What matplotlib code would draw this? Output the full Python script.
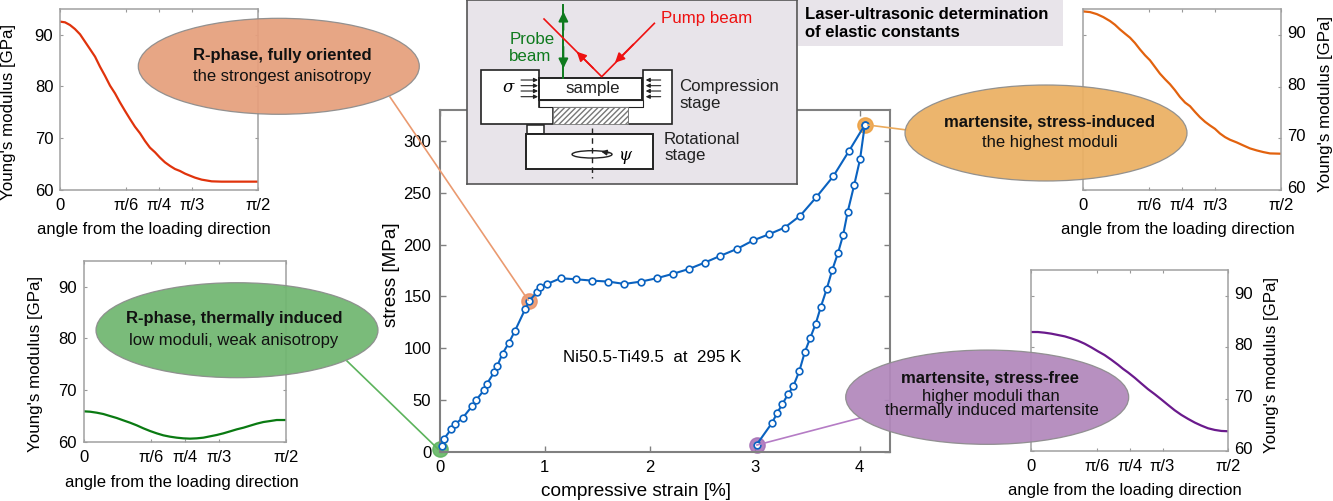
import matplotlib
matplotlib.use('Agg')
import matplotlib.pyplot as plt
import numpy as np
from matplotlib.patches import Ellipse, Polygon, Rectangle
from matplotlib.transforms import ScaledTranslation

plt.rcParams['font.family'] = ['Liberation Sans', 'DejaVu Sans']

W, H = 1333, 501

# Stress-strain loop
loading_strain = [0.02, 0.04, 0.11, 0.15, 0.22, 0.31, 0.35, 0.425, 0.45, 0.52, 0.55, 0.60, 0.66, 0.72,
                  0.815, 0.857, 0.933, 0.96, 1.024, 1.154, 1.303, 1.456, 1.608, 1.76, 1.919, 2.068,
                  2.22, 2.376, 2.525, 2.671, 2.836, 2.986, 3.138, 3.288, 3.436, 3.59, 3.75, 3.897, 4.05]
loading_stress = [5.5, 12, 21.6, 26.7, 32.5, 44, 50, 59.6, 65.4, 76.6, 82.8, 94.7, 105, 117,
                  137.5, 146, 154.6, 159, 162, 167.5, 166.5, 165.2, 164.3, 162, 164.3, 167.5,
                  171.7, 176.5, 182.6, 189, 196, 204, 210, 216.5, 228, 246, 266, 290, 315.6]
unloading_strain = [4.05, 4.005, 3.95, 3.887, 3.843, 3.795, 3.74, 3.687, 3.63, 3.583, 3.529, 3.478,
                    3.427, 3.37, 3.319, 3.265, 3.217, 3.166, 3.02]
unloading_stress = [315.6, 282.5, 258, 231.6, 209, 192, 175.5, 157, 139.5, 123.7, 109.5, 96,
                    78, 63.5, 55.5, 46, 37.7, 27.7, 6.8]
highlight_strain = [0, 0.857, 4.05, 3.02]
highlight_stress = [2.6, 146, 315.6, 6.8]
highlight_colors = ['#5cb35c', '#ea8f63', '#ec9d3c', '#a56db5']

# Young's modulus curves, angle as a fraction of pi/2
angle_red = [0, 0.024, 0.049, 0.074, 0.1, 0.125, 0.15, 0.176, 0.201, 0.226, 0.252, 0.277, 0.302, 0.328, 0.353,
             0.378, 0.404, 0.429, 0.454, 0.48, 0.505, 0.53, 0.556, 0.581, 0.606, 0.632, 0.657, 0.682, 0.716,
             0.767, 0.817, 0.902, 1]
modulus_red = [92.55, 92.42, 91.9, 91.13, 90.1, 88.68, 87.26, 85.77, 83.83, 82.09, 80.15, 78.67, 76.93, 75.25, 73.7,
               72.21, 70.92, 69.44, 68.15, 67.24, 66.21, 65.31, 64.6, 64.01, 63.63, 63.11, 62.72, 62.34, 61.95,
               61.62, 61.56, 61.56, 61.56]
angle_green = [0, 0.03, 0.063, 0.096, 0.129, 0.162, 0.195, 0.228, 0.261, 0.294, 0.327, 0.36, 0.393, 0.426, 0.459,
               0.492, 0.525, 0.558, 0.591, 0.624, 0.657, 0.69, 0.723, 0.756, 0.79, 0.822, 0.855, 0.888, 0.921,
               0.954, 1]
modulus_green = [65.88, 65.81, 65.62, 65.36, 64.97, 64.59, 64.13, 63.68, 63.17, 62.59, 62.07, 61.62, 61.23, 60.97,
                 60.78, 60.65, 60.59, 60.65, 60.78, 61.04, 61.3, 61.62, 62.0, 62.39, 62.72, 63.1, 63.49, 63.81,
                 64.0, 64.2, 64.2]
angle_orange = [0, 0.034, 0.068, 0.101, 0.135, 0.16, 0.185, 0.211, 0.236, 0.261, 0.286, 0.312, 0.337, 0.362, 0.387,
                0.413, 0.438, 0.463, 0.488, 0.514, 0.539, 0.564, 0.589, 0.615, 0.64, 0.665, 0.69, 0.716, 0.741,
                0.775, 0.808, 0.842, 0.876, 0.909, 0.943, 1]
modulus_orange = [94.59, 94.46, 94.07, 93.49, 92.72, 92.0, 91.1, 90.27, 89.49, 88.46, 87.23, 86.07, 85.1, 83.81, 82.52,
                  81.43, 80.46, 79.3, 78.0, 76.91, 76.2, 75.1, 74.07, 73.17, 72.46, 71.81, 70.91, 70.2, 69.69,
                  69.17, 68.59, 68.01, 67.62, 67.3, 67.04, 66.98]
angle_purple = [0, 0.035, 0.069, 0.103, 0.137, 0.171, 0.204, 0.238, 0.272, 0.306, 0.34, 0.373, 0.407, 0.441, 0.466,
                0.492, 0.526, 0.559, 0.593, 0.627, 0.661, 0.694, 0.728, 0.762, 0.796, 0.83, 0.863, 0.897, 0.931,
                0.965, 1]
modulus_purple = [82.97, 82.97, 82.84, 82.65, 82.39, 82.13, 81.75, 81.29, 80.71, 80.0, 79.23, 78.52, 77.62, 76.65,
                  75.87, 75.16, 74.13, 73.04, 71.94, 70.97, 69.94, 68.91, 67.87, 66.97, 66.2, 65.49, 64.91, 64.39,
                  64.07, 63.87, 63.81]

angle_ticks = [0, np.pi/6, np.pi/4, np.pi/3, np.pi/2]
angle_labels = ['0', 'π/6', 'π/4', 'π/3', 'π/2']
modulus_ticks = [60, 70, 80, 90]
strain_ticks = [0, 1, 2, 3, 4]
stress_ticks = [0, 50, 100, 150, 200, 250, 300]


def make_axes(left, top, right, bottom):
    # pixel box to figure fractions
    return fig.add_axes([left/W, 1 - bottom/H, (right - left)/W, (bottom - top)/H])


fig = plt.figure(figsize=(W/100, H/100), dpi=100)

# main plot
ax = make_axes(439.5, 110, 890, 451.7)
ax.plot(loading_strain, loading_stress, color='#0a62c0', lw=1.5, zorder=3)
ax.plot(unloading_strain, unloading_stress, color='#0a62c0', lw=1.5, zorder=3)
for x, y, c in zip(highlight_strain, highlight_stress, highlight_colors):
    ax.plot(x, y, 'o', ms=11, color=c, mec=c, alpha=0.85, zorder=2, clip_on=False)
for xs, ys in [(loading_strain, loading_stress), (unloading_strain, unloading_stress)]:
    ax.plot(xs, ys, 'o', ms=4.8, mfc='white', mec='#0a62c0', mew=1.2, zorder=4, clip_on=False)
ax.set_xlim(0, 4.29)
ax.set_ylim(0, 330)
ax.set_xticks(strain_ticks)
ax.set_yticks(stress_ticks)
ax.tick_params(direction='in', top=True, right=True, length=4, width=1, color='#808080', labelsize=12, pad=6)
for s in ax.spines.values():
    s.set_color('#808080')
    s.set_linewidth(1.5)
ax.set_xlabel('compressive strain [%]', fontsize=13.7)
ax.xaxis.set_label_coords((636 - 439.5)/450.5, -(491 - 451.7)/341.7)
ax.xaxis.label.set_va('center')
ax.set_ylabel('stress [MPa]', fontsize=13.7)
ax.yaxis.set_label_coords((391 - 439.5)/450.5, (451.7 - 275)/341.7)
ax.yaxis.label.set_va('center')
ax.text(1.176, 90.5, 'Ni50.5-Ti49.5  at  295 K', fontsize=12.2, va='center', ha='left')

# modulus insets: box, curve, label positions in pixels
insets = [
    (60.3, 9, 257.7, 189.7, angle_red, modulus_red, '#e0330c', 'left', 154, 230, 8, 112),
    (84, 261, 286, 441.7, angle_green, modulus_green, '#0a7a12', 'left', 182, 482, 36, 364),
    (1083.3, 9.3, 1281.3, 189.7, angle_orange, modulus_orange, '#e2620e', 'right', 1178, 230, 1325, 104),
    (1031, 269.7, 1228.3, 451, angle_purple, modulus_purple, '#6a1a8c', 'right', 1125, 491, 1271.7, 364.7),
]
for left, top, right, bottom, angle, modulus, color, side, xl_x, xl_y, yl_x, yl_y in insets:
    a = make_axes(left, top, right, bottom)
    a.plot(np.array(angle)*np.pi/2, modulus, color=color, lw=1.6)
    a.set_xlim(0, np.pi/2)
    a.set_ylim(60, 95)
    a.set_xticks(angle_ticks)
    a.set_xticklabels(angle_labels)
    a.set_yticks(modulus_ticks)
    a.tick_params(direction='in', top=True, right=True, length=2, width=0.8, color='#999999', labelsize=12, pad=5)
    a.tick_params(axis='x', pad=6)
    for s in a.spines.values():
        s.set_color('#a0a0a0')
        s.set_linewidth(1.1)
    if side == 'right':
        a.yaxis.tick_right()
        a.tick_params(left=True, axis='y', pad=4)
        for lab in a.get_yticklabels():
            lab.set_transform(lab.get_transform() + ScaledTranslation(0, 3/100, fig.dpi_scale_trans))
    a.set_xlabel('angle from the loading direction', fontsize=12)
    a.xaxis.set_label_coords((xl_x - left)/(right - left), -(xl_y - bottom)/(bottom - top))
    a.xaxis.label.set_va('center')
    a.set_ylabel("Young's modulus [GPa]", fontsize=12.2, rotation=90)
    a.yaxis.set_label_coords((yl_x - left)/(right - left), (bottom - yl_y)/(bottom - top))
    a.yaxis.label.set_va('center')

# overlay in pixel coordinates: connectors, ellipses, captions
over = fig.add_axes([0, 0, 1, 1], zorder=5)
over.set_xlim(0, W)
over.set_ylim(H, 0)
over.axis('off')
over.patch.set_alpha(0)

over.plot([390, 528], [97, 300], color='#ea9a70', lw=1.2, zorder=1)
over.plot([347, 438], [361, 449], color='#5cb35c', lw=1.2, zorder=1)
over.plot([907, 868], [130, 125], color='#ecab5c', lw=1.2, zorder=1)
over.plot([860, 757], [418, 445], color='#b57cc5', lw=1.2, zorder=1)

bubbles = [
    (278.8, 66.3, 281, 96, '#e69f7c'),
    (237, 330.2, 282, 95, '#70b670'),
    (1046, 133, 282, 96, '#ebb062'),
    (987.2, 397.2, 283, 94.3, '#b288bc'),
]
for cx, cy, w, h, c in bubbles:
    over.add_patch(Ellipse((cx, cy), w, h, facecolor=c, edgecolor='#8c8c8c', lw=0.9, alpha=0.93, zorder=2))

captions = [
    (282, 55, 'R-phase, fully oriented', 'bold'),
    (282, 76, 'the strongest anisotropy', 'normal'),
    (234, 319, 'R-phase, thermally induced', 'bold'),
    (234, 340, 'low moduli, weak anisotropy', 'normal'),
    (1049.5, 122, 'martensite, stress-induced', 'bold'),
    (1049.5, 143, 'the highest moduli', 'normal'),
    (990, 377.7, 'martensite, stress-free', 'bold'),
    (991, 396.7, 'higher moduli than', 'normal'),
    (991.5, 411, 'thermally induced martensite', 'normal'),
]
for x, y, s, weight in captions:
    over.text(x, y, s, ha='center', va='center', fontsize=12, fontweight=weight, color='#111111', zorder=3)

# title box
over.add_patch(Rectangle((798, 0), 265, 45.7, facecolor='#e8e4ea', edgecolor='none', zorder=1))
over.text(805, 14, 'Laser-ultrasonic determination', fontsize=12, fontweight='bold', va='center', zorder=3)
over.text(805, 32, 'of elastic constants', fontsize=12, fontweight='bold', va='center', zorder=3)

# sample stage sketch, axes units are the sketch's own
sk = make_axes(466.7, 0, 796.7, 183.7)
sk.set_zorder(6)
sk.set_xlim(140, 1130)
sk.set_ylim(551, 0)
sk.set_facecolor('#e8e4ea')
sk.set_xticks([])
sk.set_yticks([])
for s in sk.spines.values():
    s.set_color('#555555')
    s.set_linewidth(1.2)

dark = '#222222'
sk.add_patch(Polygon([(183, 210), (357, 210), (357, 320), (400, 320), (400, 373), (183, 373)],
                     fc='white', ec=dark, lw=1.2))
sk.add_patch(Polygon([(670, 210), (755, 210), (755, 373), (625, 373), (625, 320), (670, 320)],
                     fc='white', ec=dark, lw=1.2))
sk.add_patch(Rectangle((357, 300), 313, 20, fc='white', ec=dark, lw=0.8))
sk.add_patch(Rectangle((400, 320), 225, 53, fc='white', ec='#777777', lw=0.6, hatch='//////'))
sk.add_patch(Rectangle((357, 233), 310, 67, fc='white', ec=dark, lw=1.4))
sk.add_patch(Rectangle((320, 375), 53, 27, fc='white', ec=dark, lw=1.1))
sk.add_patch(Rectangle((318, 402), 382, 106, fc='white', ec=dark, lw=1.4))
sk.plot([516, 516], [385, 535], color=dark, lw=1, ls=(0, (4, 3)))
sk.add_patch(Ellipse((516, 463), 120, 22, fc='none', ec=dark, lw=1))
sk.annotate('', xy=(535, 453), xytext=(575, 460), arrowprops=dict(arrowstyle='-|>', color=dark, lw=1, mutation_scale=8))
sk.text(615, 465, 'ψ', fontsize=12, style='italic', family='DejaVu Serif', ha='center', va='center')
sk.text(265, 263, 'σ', fontsize=12, style='italic', family='DejaVu Serif', ha='center', va='center')
for y in [240, 257, 273, 290]:
    sk.annotate('', xy=(354, y), xytext=(303, y), arrowprops=dict(arrowstyle='-|>', color=dark, lw=0.8, mutation_scale=6, shrinkA=0, shrinkB=0))
    sk.annotate('', xy=(677, y), xytext=(722, y), arrowprops=dict(arrowstyle='-|>', color=dark, lw=0.8, mutation_scale=6, shrinkA=0, shrinkB=0))

green = '#0f7a1e'
sk.plot([430, 430], [15, 233], color=green, lw=1.4)
sk.annotate('', xy=(430, 35), xytext=(430, 90), arrowprops=dict(arrowstyle='-|>', color=green, lw=1.4, mutation_scale=14, shrinkA=0, shrinkB=0))
sk.annotate('', xy=(430, 205), xytext=(430, 140), arrowprops=dict(arrowstyle='-|>', color=green, lw=1.4, mutation_scale=14, shrinkA=0, shrinkB=0))
red = '#ee1111'
sk.plot([372, 545, 703], [57, 230, 70], color=red, lw=1.2)
sk.annotate('', xy=(585, 188), xytext=(640, 133), arrowprops=dict(arrowstyle='-|>', color=red, lw=1.2, mutation_scale=14, shrinkA=0, shrinkB=0))
sk.annotate('', xy=(470, 155), xytext=(520, 205), arrowprops=dict(arrowstyle='-|>', color=red, lw=1.2, mutation_scale=14, shrinkA=0, shrinkB=0))

sk.text(722, 55, 'Pump beam', fontsize=12.2, color=red, va='center')
sk.text(268, 118, 'Probe', fontsize=12.2, color=green, va='center')
sk.text(268, 170, 'beam', fontsize=12.2, color=green, va='center')
sk.text(517, 265, 'sample', fontsize=12.2, color=dark, ha='center', va='center')
sk.text(778, 260, 'Compression', fontsize=12.2, color=dark, va='center')
sk.text(778, 310, 'stage', fontsize=12.2, color=dark, va='center')
sk.text(732, 417, 'Rotational', fontsize=12.2, color=dark, va='center')
sk.text(732, 467, 'stage', fontsize=12.2, color=dark, va='center')

fig.savefig('out.png', dpi=100)
